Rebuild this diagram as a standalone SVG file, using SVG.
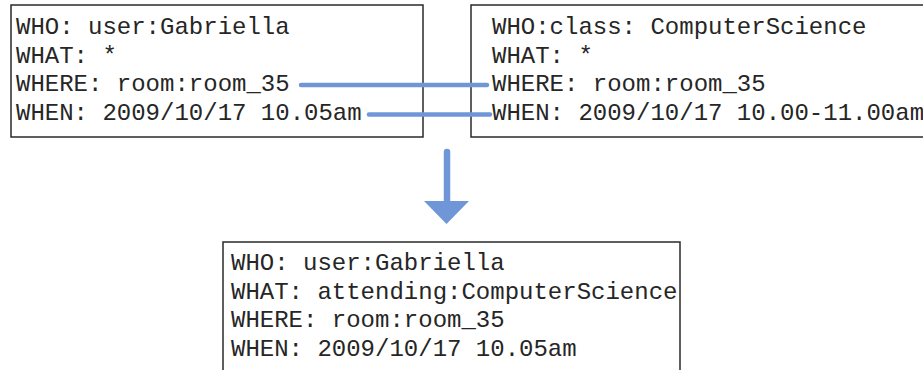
<svg xmlns="http://www.w3.org/2000/svg" width="923" height="370" viewBox="0 0 923 370">
<style>
.box{fill:#fff;stroke:#2a2a2a;stroke-width:1.5}
.t{font-family:"Liberation Mono","Courier New",monospace;font-size:24px;fill:#262626}
.c{stroke:#6f97d8;stroke-width:4.5;stroke-linecap:round;fill:none}
</style>
<rect width="923" height="370" fill="#fff"/>
<g id="node-user">
<rect class="box" x="11" y="5" width="412" height="132"/>
<text class="t" x="16" y="34">WHO: user:Gabriella</text>
<text class="t" x="16" y="62.7">WHAT: *</text>
<text class="t" x="16" y="91.3">WHERE: room:room_35</text>
<text class="t" x="16" y="120">WHEN: 2009/10/17 10.05am</text>
</g>
<g id="node-class">
<rect class="box" x="471" y="5" width="470" height="132"/>
<text class="t" x="492" y="34">WHO:class: ComputerScience</text>
<text class="t" x="492" y="62.7">WHAT: *</text>
<text class="t" x="492" y="91.3">WHERE: room:room_35</text>
<text class="t" x="492" y="120">WHEN: 2009/10/17 10.00-11.00am</text>
</g>
<g id="node-result">
<rect class="box" x="223" y="242" width="457" height="140"/>
<text class="t" x="231" y="270">WHO: user:Gabriella</text>
<text class="t" x="231" y="298.5">WHAT: attending:ComputerScience</text>
<text class="t" x="231" y="327">WHERE: room:room_35</text>
<text class="t" x="231" y="355.5">WHEN: 2009/10/17 10.05am</text>
</g>
<g id="connectors">
<line class="c" x1="301" y1="85" x2="487" y2="85"/>
<line class="c" x1="369" y1="114.5" x2="490" y2="114.5"/>
<line class="c" x1="447" y1="152" x2="447" y2="203" style="stroke-width:6.5"/>
<polygon points="424,201 469,201 446.5,224" fill="#6f97d8"/>
</g>
</svg>
